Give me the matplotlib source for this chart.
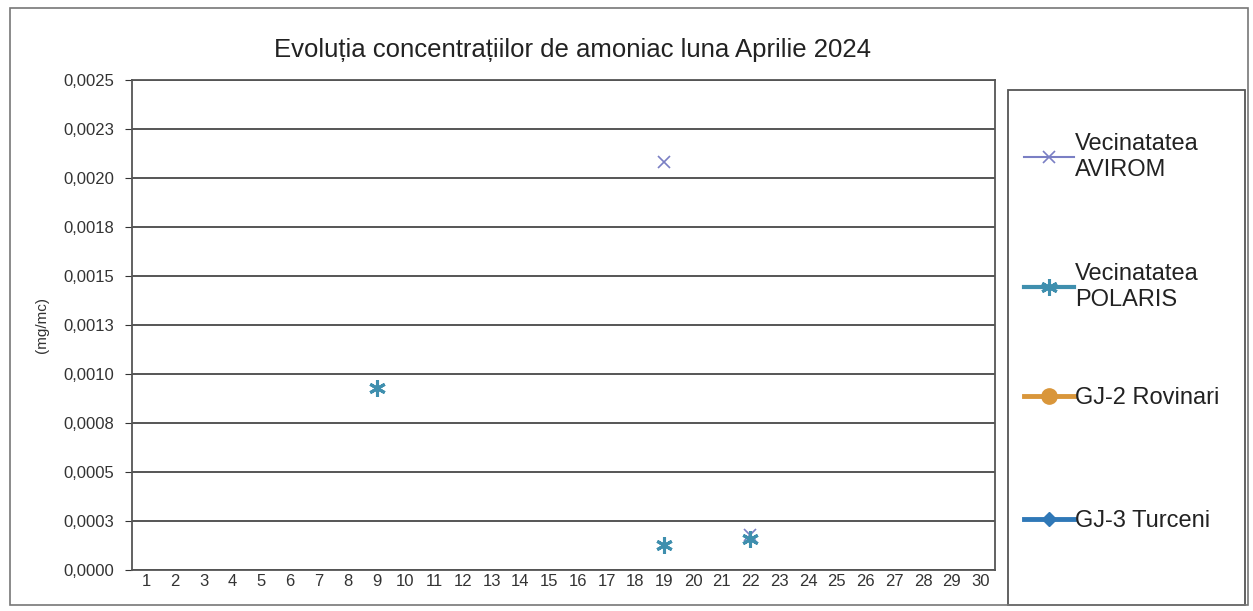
import numpy as np
import matplotlib
matplotlib.use("Agg")
import matplotlib.pyplot as plt
from matplotlib.ticker import FuncFormatter

plt.rcParams['font.family'] = ['Liberation Sans', 'DejaVu Sans']

days = list(range(1, 31))
n = None
# daily values (mg/mc), None = no measurement
avirom = [n] * 18 + [0.00208, n, n, 0.00018] + [n] * 8
polaris = [n] * 8 + [0.00093] + [n] * 9 + [0.00013, n, n, 0.00016] + [n] * 8
rovinari = [n] * 30
turceni = [n] * 30

def arr(v):
    return np.array([np.nan if x is None else x for x in v], dtype=float)

fig = plt.figure(figsize=(12.53, 6.11), dpi=100)
ax = fig.add_axes([132 / 1253, 1 - 570 / 611, (995 - 132) / 1253, (570 - 80) / 611])

ax.plot(days, arr(avirom), linestyle='-', marker='x', color='#7a7fc4',
        markersize=8, markeredgewidth=1.2, linewidth=1.5, label='Vecinatatea\nAVIROM')
ax.plot(days, arr(polaris), linestyle='-', marker=(6, 2, 0), color='#3f8fae',
        markersize=12, markeredgewidth=2.2, linewidth=3, label='Vecinatatea\nPOLARIS')
ax.plot(days, arr(rovinari), linestyle='-', marker='o', color='#d9963a',
        markersize=11, linewidth=3.5, label='GJ-2 Rovinari')
ax.plot(days, arr(turceni), linestyle='-', marker='D', color='#2f78b7',
        markersize=7, linewidth=3.5, label='GJ-3 Turceni')

ax.set_xlim(0.5, 30.5)
ax.set_xticks(days)
ax.set_xticklabels([str(d) for d in days], fontsize=12, color='#333333')
ax.set_ylim(0, 0.0025)
ax.set_yticks(np.arange(0, 0.0026, 0.00025))
ax.yaxis.set_major_formatter(FuncFormatter(lambda v, p: f"{v:.4f}".replace('.', ',')))
ax.tick_params(axis='y', labelsize=12, colors='#333333', length=5, pad=8)
ax.tick_params(axis='x', length=0, pad=3)
ax.grid(axis='y', color='#555555', linewidth=1.4)
for s in ax.spines.values():
    s.set_color('#555555')
    s.set_linewidth(1.3)
ax.set_ylabel('(mg/mc)', fontsize=11, color='#333333', labelpad=10)

fig.text(572 / 1253, 1 - 50 / 611, 'Evoluția concentrațiilor de amoniac luna Aprilie 2024',
         ha='center', va='center', fontsize=18.5, color='#222222')

# one legend per entry, spaced like the original box
handles, labels = ax.get_legend_handles_labels()
entry_y = [157, 287, 398, 521]
for h, lab, yy in zip(handles, labels, entry_y):
    lg = fig.legend([h], [lab], loc='center left', bbox_to_anchor=(1024 / 1253, 1 - yy / 611),
                    fontsize=17, frameon=False, handlelength=2.1, handletextpad=0.05,
                    borderpad=0, borderaxespad=0)
    for t in lg.get_texts():
        t.set_linespacing(1.25)
        t.set_color('#222222')

# legend box and outer chart border
fig.patches.append(plt.Rectangle((1008 / 1253, 1 - 605 / 611), 237 / 1253, 515 / 611,
                                 transform=fig.transFigure, fill=False,
                                 edgecolor='#555555', linewidth=1.3))
fig.patches.append(plt.Rectangle((10 / 1253, 1 - 605 / 611), 1238 / 1253, 597 / 611,
                                 transform=fig.transFigure, fill=False,
                                 edgecolor='#777777', linewidth=1.2))

fig.savefig('out.png', dpi=100)
